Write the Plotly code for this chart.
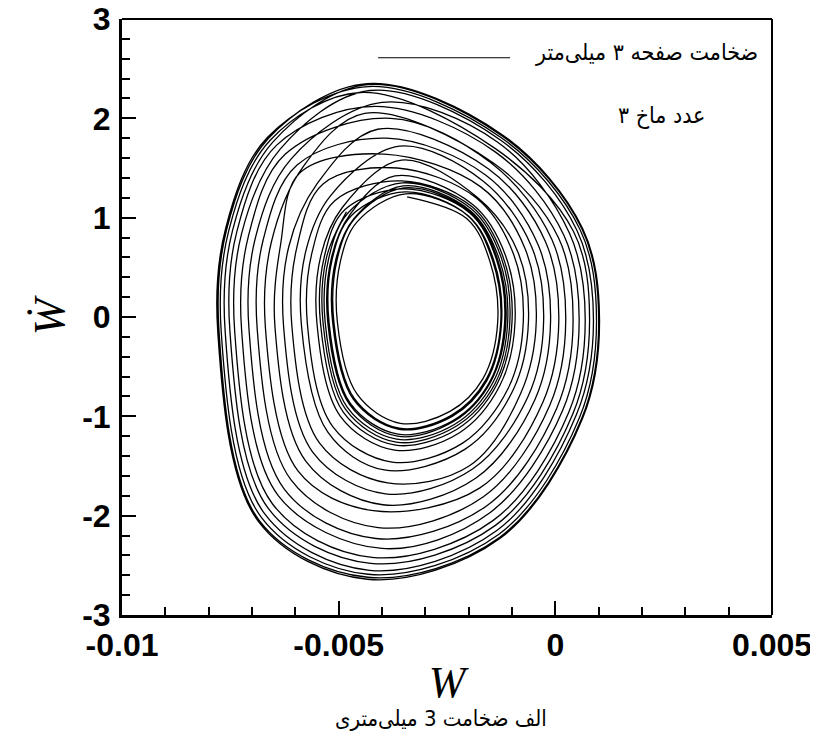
import plotly.graph_objects as go

# phase portrait: one list per loop, 11 points each,
# clockwise from the right-hand extreme (W in plate units, W_dot in 1/s units)
w_loops = [
    [-0.00133, -0.00167, -0.00243, -0.00358, -0.00457, -0.00503, -0.00496, -0.00457, -0.00342, -0.00204, -0.00151],
    [-0.00126, -0.00160, -0.00240, -0.00360, -0.00464, -0.00511, -0.00504, -0.00463, -0.00345, -0.00202, -0.00145],
    [-0.00114, -0.00149, -0.00234, -0.00364, -0.00475, -0.00525, -0.00517, -0.00474, -0.00349, -0.00197, -0.00134],
    [-0.00093, -0.00128, -0.00223, -0.00371, -0.00496, -0.00550, -0.00541, -0.00492, -0.00370, -0.00190, -0.00115],
    [-0.00062, -0.00098, -0.00208, -0.00395, -0.00525, -0.00586, -0.00576, -0.00519, -0.00355, -0.00179, -0.00087],
    [-0.00027, -0.00063, -0.00191, -0.00392, -0.00560, -0.00627, -0.00615, -0.00550, -0.00360, -0.00167, -0.00055],
    [0.00008, -0.00029, -0.00174, -0.00420, -0.00594, -0.00669, -0.00655, -0.00581, -0.00410, -0.00154, -0.00023],
    [0.00041, 0.00003, -0.00158, -0.00414, -0.00626, -0.00707, -0.00692, -0.00610, -0.00440, -0.00143, 0.00007],
    [0.00069, 0.00031, -0.00144, -0.00423, -0.00653, -0.00740, -0.00724, -0.00635, -0.00400, -0.00133, 0.00033],
    [0.00088, 0.00049, -0.00135, -0.00429, -0.00671, -0.00762, -0.00745, -0.00652, -0.00428, -0.00126, 0.00050],
    [0.00100, 0.00061, -0.00129, -0.00433, -0.00683, -0.00776, -0.00758, -0.00662, -0.00433, -0.00122, 0.00061],
    [0.00102, 0.00063, -0.00128, -0.00434, -0.00685, -0.00779, -0.00761, -0.00664, -0.00434, -0.00121, 0.00063],
    [0.00095, 0.00056, -0.00131, -0.00432, -0.00678, -0.00771, -0.00753, -0.00658, -0.00431, -0.00123, 0.00057],
    [0.00079, 0.00040, -0.00139, -0.00426, -0.00662, -0.00751, -0.00735, -0.00643, -0.00450, -0.00140, 0.00042],
    [0.00055, 0.00017, -0.00151, -0.00400, -0.00639, -0.00724, -0.00708, -0.00623, -0.00416, -0.00138, 0.00020],
    [0.00024, -0.00013, -0.00166, -0.00409, -0.00610, -0.00688, -0.00674, -0.00596, -0.00380, -0.00148, -0.00008],
    [-0.00011, -0.00047, -0.00183, -0.00398, -0.00576, -0.00647, -0.00634, -0.00590, -0.00390, -0.00161, -0.00040],
    [-0.00044, -0.00080, -0.00199, -0.00387, -0.00544, -0.00608, -0.00597, -0.00536, -0.00395, -0.00172, -0.00070],
    [-0.00074, -0.00109, -0.00214, -0.00377, -0.00514, -0.00572, -0.00562, -0.00509, -0.00365, -0.00183, -0.00097],
    [-0.00100, -0.00135, -0.00227, -0.00369, -0.00489, -0.00542, -0.00533, -0.00486, -0.00355, -0.00192, -0.00121],
    [-0.00117, -0.00151, -0.00235, -0.00363, -0.00473, -0.00522, -0.00515, -0.00471, -0.00348, -0.00198, -0.00136],
    [-0.00124, -0.00158, -0.00238, -0.00361, -0.00466, -0.00514, -0.00507, -0.00465, -0.00346, -0.00201, -0.00142],
    [-0.00110, -0.00144, -0.00232, -0.00366, -0.00480, -0.00531, -0.00523, -0.00478, -0.00351, -0.00196, -0.00130],
    [-0.00105, -0.00139, -0.00229, -0.00367, -0.00484, -0.00536, -0.00528, -0.00482, -0.00353, -0.00194, -0.00125],
]
wdot_loops = [
    [-0.05, -0.62, -0.95, -1.07, -0.78, -0.05, 0.56, 0.96, 1.21, 0.99, 0.56],
    [-0.05, -0.63, -0.99, -1.12, -0.82, -0.05, 0.57, 0.99, 1.24, 1.02, 0.57],
    [-0.05, -0.65, -1.05, -1.20, -0.88, -0.06, 0.59, 1.03, 1.30, 1.06, 0.59],
    [-0.05, -0.69, -1.17, -1.34, -1.00, -0.07, 0.62, 1.10, 1.42, 1.13, 0.62],
    [-0.04, -0.74, -1.33, -1.54, -1.16, -0.08, 0.66, 1.22, 1.58, 1.20, 0.66],
    [-0.04, -0.80, -1.53, -1.78, -1.36, -0.10, 0.71, 1.34, 1.72, 1.37, 0.71],
    [-0.04, -0.86, -1.72, -1.95, -1.55, -0.11, 0.76, 1.52, 1.89, 1.49, 0.76],
    [-0.04, -0.92, -1.90, -2.23, -1.73, -0.12, 0.80, 1.59, 2.05, 1.55, 0.80],
    [-0.03, -0.96, -2.05, -2.42, -1.88, -0.14, 0.84, 1.69, 2.16, 1.76, 0.84],
    [-0.03, -0.98, -2.15, -2.55, -1.98, -0.14, 0.87, 1.76, 2.28, 1.78, 0.87],
    [-0.03, -1.02, -2.22, -2.62, -2.05, -0.15, 0.89, 1.80, 2.34, 1.82, 0.89],
    [-0.03, -1.02, -2.23, -2.64, -2.06, -0.15, 0.89, 1.81, 2.35, 1.83, 0.89],
    [-0.03, -1.01, -2.19, -2.59, -2.02, -0.15, 0.88, 1.78, 2.32, 1.80, 0.88],
    [-0.03, -0.98, -2.10, -2.48, -1.93, -0.14, 0.86, 1.73, 2.26, 1.70, 0.86],
    [-0.03, -0.94, -1.97, -2.33, -1.80, -0.13, 0.82, 1.64, 2.12, 1.66, 0.82],
    [-0.04, -0.89, -1.81, -2.12, -1.64, -0.12, 0.78, 1.53, 2.00, 1.55, 0.78],
    [-0.04, -0.83, -1.62, -1.89, -1.45, -0.10, 0.73, 1.45, 1.80, 1.43, 0.73],
    [-0.04, -0.77, -1.50, -1.67, -1.27, -0.09, 0.69, 1.34, 1.64, 1.31, 0.69],
    [-0.05, -0.72, -1.27, -1.46, -1.10, -0.08, 0.64, 1.17, 1.50, 1.20, 0.64],
    [-0.05, -0.68, -1.13, -1.29, -0.96, -0.06, 0.61, 1.08, 1.37, 1.11, 0.61],
    [-0.05, -0.65, -1.04, -1.18, -0.87, -0.06, 0.58, 1.02, 1.29, 1.05, 0.58],
    [-0.05, -0.64, -1.00, -1.13, -0.83, -0.05, 0.57, 0.99, 1.26, 1.02, 0.57],
    [-0.05, -0.66, -1.08, -1.23, -0.91, -0.06, 0.59, 1.05, 1.32, 1.07, 0.59],
    [-0.05, -0.67, -1.10, -1.26, -0.93, -0.06, 0.60, 1.06, 1.35, 1.09, 0.60],
]

x_ticks = [-0.01, -0.005, 0, 0.005]
x_ticktext = ["-0.01", "-0.005", "0", "0.005"]
y_ticks = [-3, -2, -1, 0, 1, 2, 3]
y_ticktext = ["-3", "-2", "-1", "0", "1", "2", "3"]

legend_text = "ضخامت صفحه ۳ میلی‌متر"
mach_text = "عدد ماخ ۳"
caption = "الف ضخامت 3 میلی‌متری"

# walk each loop starting from its top so the hand-over between loops sits up there
w_all, wdot_all = [], []
for wl, yl in zip(w_loops, wdot_loops):
    w_all += wl[8:] + wl[:8]
    wdot_all += yl[8:] + yl[:8]

fig = go.Figure()
fig.add_scatter(
    x=w_all, y=wdot_all, mode="lines",
    line=dict(color="black", width=1.3, shape="spline", smoothing=1.0),
    showlegend=False, hoverinfo="skip",
)

tick_font = dict(family="Liberation Sans, Arial, sans-serif", size=32, color="black", weight="bold")
serif = dict(family="Liberation Serif, DejaVu Serif, serif", size=44, color="black", style="italic")
fa_font = dict(family="DejaVu Sans Condensed, DejaVu Sans, sans-serif", color="black")

fig.update_xaxes(
    range=[-0.01, 0.005], tickvals=x_ticks, ticktext=x_ticktext,
    ticks="inside", ticklen=14, tickwidth=2, tickcolor="black",
    minor=dict(tickmode="linear", tick0=-0.01, dtick=0.001, ticks="inside", ticklen=8, tickwidth=1.5, tickcolor="black"),
    showline=True, linewidth=3, linecolor="black", showgrid=False, zeroline=False,
    tickfont=tick_font, ticklabelstandoff=0, ticklabeloverflow="allow", automargin=False,
    title=dict(text="W", font=serif, standoff=4),
)
fig.update_yaxes(
    range=[-3, 3], tickvals=y_ticks, ticktext=y_ticktext,
    ticks="inside", ticklen=14, tickwidth=2, tickcolor="black",
    minor=dict(tickmode="linear", tick0=-3, dtick=0.2, ticks="inside", ticklen=8, tickwidth=1.5, tickcolor="black"),
    showline=True, linewidth=3, linecolor="black", showgrid=False, zeroline=False,
    tickfont=tick_font, ticklabelstandoff=2, ticklabeloverflow="allow", automargin=False,
    title=dict(text="Ẇ", font=serif, standoff=4),
)

# top and right frame, thinner than the axis lines
fig.add_shape(type="line", xref="paper", yref="paper", x0=0, x1=1, y0=1, y1=1, line=dict(color="black", width=2))
fig.add_shape(type="line", xref="paper", yref="paper", x0=1, x1=1, y0=0, y1=1, line=dict(color="black", width=2))

# legend drawn by hand: sample line left of the right-to-left label
fig.add_shape(type="line", xref="paper", yref="paper", x0=0.394, x1=0.597, y0=0.935, y1=0.935, line=dict(color="black", width=1.2))
fig.add_annotation(text=legend_text, xref="paper", yref="paper", x=0.982, y=0.944, xanchor="right", yanchor="middle",
                   showarrow=False, font=dict(fa_font, size=23))
fig.add_annotation(text=mach_text, xref="paper", yref="paper", x=0.90, y=0.838, xanchor="right", yanchor="middle",
                   showarrow=False, font=dict(fa_font, size=23))
fig.add_annotation(text=caption, xref="paper", yref="paper", x=0.49, y=-0.173, xanchor="center", yanchor="middle",
                   showarrow=False, font=dict(fa_font, size=22))

# the page body adds an 8 px offset, so the figure is 8 px smaller and margins shifted
fig.update_layout(
    width=810, height=742,
    margin=dict(l=114, r=46, t=11, b=135),
    paper_bgcolor="white", plot_bgcolor="white",
)

fig.write_html("out.html")
